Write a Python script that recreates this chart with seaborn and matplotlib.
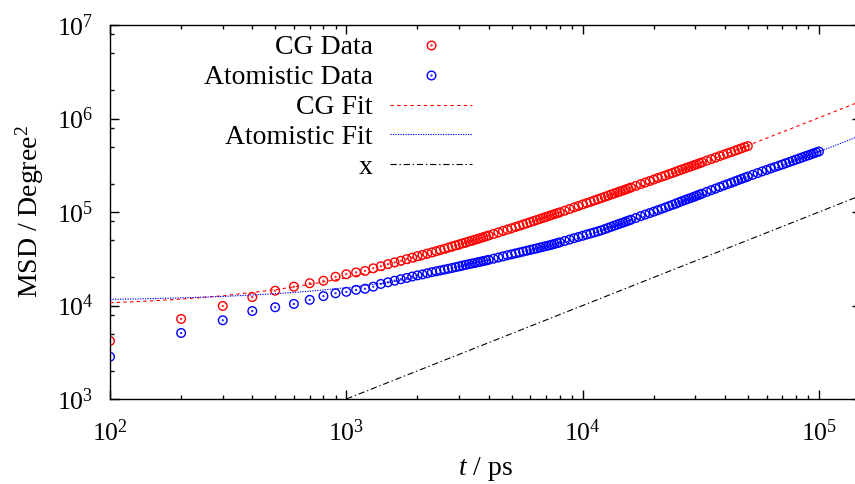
import numpy as np
import matplotlib
matplotlib.use("Agg")
import matplotlib.pyplot as plt
import seaborn as sns
from matplotlib.path import Path
from matplotlib.lines import Line2D
from matplotlib.ticker import LogLocator, LogFormatterMathtext, NullFormatter

# ---- sampling times (ps) ----
t_cg = [*range(100, 4001, 100), *range(4200, 8001, 200), *range(8400, 16001, 400),
        *range(16800, 32001, 800), *range(33500, 50001, 1500)]
t_atom = t_cg + [*range(52500, 100001, 2500)]

# ---- mean squared displacement, degree^2 ----
msd_cg = [
    4170, 7180, 9890, 12300, 14400, 15900, 17300, 18400, 20300, 21600,
    22600, 23400, 25000, 26300, 27700, 28900, 30100, 31300, 32500, 33700,
    34800, 35900, 37000, 38100, 39300, 40400, 41600, 42800, 43900, 45000,
    46100, 47200, 48400, 49400, 50500, 51600, 52700, 53800, 55000, 56100,
    58300, 60500, 62800, 64900, 67000, 69200, 71300, 73500, 75700, 77800,
    80000, 82200, 84400, 86500, 88500, 90700, 92900, 95100, 97100, 99100,
    103300, 107600, 112000, 116100, 120500, 124500, 128500, 132700, 136800, 141000,
    145200, 149300, 153800, 157800, 161800, 166000, 169800, 174200, 178200, 182400,
    190100, 198600, 206500, 214300, 222300, 230700, 238200, 246000, 254100, 261800,
    269800, 278000, 285800, 293800, 301300, 308300, 316200, 324300, 331900, 339600,
    354000, 368100, 382000, 396300, 410200, 424600, 437500, 451900, 465600, 479700,
    494300, 507000,
]
msd_atom = [
    2830, 5080, 6950, 8730, 9570, 10400, 11500, 12600, 13500, 14000,
    14700, 15100, 15900, 17000, 17700, 18400, 19100, 19700, 20400, 21000,
    21500, 22100, 22700, 23200, 23700, 24200, 24700, 25200, 25700, 26200,
    26700, 27200, 27700, 28100, 28500, 29000, 29400, 29900, 30300, 30800,
    31700, 32600, 33500, 34400, 35200, 36100, 36900, 37700, 38500, 39300,
    40100, 40800, 41700, 42400, 43200, 43900, 44700, 45600, 46500, 47300,
    49000, 50700, 52500, 54100, 55700, 57400, 58900, 60500, 62100, 63700,
    65600, 67600, 69500, 71400, 73300, 75200, 76900, 78900, 80700, 82600,
    86300, 90200, 93800, 97300, 100900, 104500, 108100, 111900, 115600, 119400,
    123000, 127100, 130900, 134600, 138400, 141900, 145600, 149600, 153100, 157000,
    164100, 171000, 177800, 184900, 191900, 198600, 205100, 212300, 219300, 225900,
    232800, 239300,
    250000, 260600, 271600, 281800, 292400, 302700, 312600, 322100, 332700, 342800,
    353200, 363900, 373300, 383700, 394500, 403600, 414000, 424600, 433600, 443600,
]

# ---- fitted curves ----
t_fit = [100, 150, 200, 300, 500, 700, 1000, 1500, 2000, 3000, 5000, 7000,
         10000, 15000, 20000, 30000, 50000, 70000, 100000, 150000]
fit_cg = [10700, 11200, 11700, 12700, 14750, 16800, 19800, 24900, 29900, 40000,
          60200, 80400, 110700, 161200, 211700, 312700, 514700, 716700, 1019700, 1524700]
fit_atom = [11630, 11850, 12060, 12490, 13350, 14210, 15500, 17650, 19800, 24100,
            32700, 41300, 54200, 75700, 97200, 140200, 226200, 312200, 441200, 656200]

# ---- reference line y = x ----
t_ref = [1000, 150000]
msd_ref = [1000, 150000]

labels = ["CG Data", "Atomistic Data", "CG Fit", "Atomistic Fit", "x"]

RED = "#ff0000"
BLUE = "#0000ff"
FS_TICK = 18.5
FS_TEXT = 20

sns.set_theme(style="ticks")
plt.rcParams.update({
    "font.family": ["Liberation Serif", "DejaVu Serif"],
    "mathtext.fontset": "custom",
    "mathtext.rm": "Liberation Serif",
    "mathtext.it": "Liberation Serif:italic",
    "mathtext.default": "regular",
    "lines.scale_dashes": False,
    "axes.linewidth": 1.0,
    "axes.edgecolor": "black",
    "text.color": "black",
    "axes.labelcolor": "black",
    "xtick.color": "black",
    "ytick.color": "black",
})

fig = plt.figure(figsize=(8.55, 4.84), dpi=100)
ax = fig.add_axes([110 / 855, 85 / 484, 750.6 / 855, 374 / 484])
ax.set_xscale("log")
ax.set_yscale("log")

# open circle with a centre dot
ring = Path.make_compound_path(Path.unit_circle(), Path.circle((0, 0), 0.09))
MS = 6.2
MEW = 1.0

sns.scatterplot(x=t_cg, y=msd_cg, ax=ax, marker=ring, s=MS ** 2, color=RED,
                facecolor="none", edgecolor=RED, linewidth=MEW, legend=False, zorder=2)
sns.scatterplot(x=t_atom, y=msd_atom, ax=ax, marker=ring, s=MS ** 2, color=BLUE,
                facecolor="none", edgecolor=BLUE, linewidth=MEW, legend=False, zorder=2)

ls_cg = (0, (2.4, 2.4))
ls_atom = (0, (0.9, 0.9))
ls_ref = (0, (4.5, 2.0, 1.0, 2.0))
sns.lineplot(x=t_fit, y=fit_cg, ax=ax, color=RED, lw=0.8, linestyle=ls_cg,
             estimator=None, zorder=3)
sns.lineplot(x=t_fit, y=fit_atom, ax=ax, color=BLUE, lw=0.8, linestyle=ls_atom,
             estimator=None, zorder=3)
sns.lineplot(x=t_ref, y=msd_ref, ax=ax, color="black", lw=0.8, linestyle=ls_ref,
             estimator=None, zorder=3)

ax.set_xlim(100, 1.5e5)
ax.set_ylim(1e3, 1e7)

ax.xaxis.set_major_locator(LogLocator(base=10, numticks=12))
ax.xaxis.set_minor_locator(LogLocator(base=10, subs=np.arange(2, 10), numticks=30))
ax.yaxis.set_major_locator(LogLocator(base=10, numticks=12))
ax.yaxis.set_minor_locator(LogLocator(base=10, subs=[2, 5, 8], numticks=30))
ax.xaxis.set_major_formatter(LogFormatterMathtext())
ax.yaxis.set_major_formatter(LogFormatterMathtext())
ax.xaxis.set_minor_formatter(NullFormatter())
ax.yaxis.set_minor_formatter(NullFormatter())

ax.tick_params(which="both", direction="in", top=True, right=True, width=1.0,
               labelsize=FS_TICK)
ax.tick_params(which="major", length=6.5)
ax.tick_params(which="minor", length=3.2)
ax.tick_params(axis="x", which="major", pad=15)
ax.tick_params(axis="y", which="major", pad=12)

ax.set_xlabel(r"$\mathit{t}$ / ps", fontsize=FS_TEXT, labelpad=6)
ax.set_ylabel("MSD / Degree$^2$", fontsize=FS_TEXT, labelpad=8)

handles = [
    Line2D([], [], ls="none", marker=ring, ms=MS, mfc="none", mec=RED, mew=MEW),
    Line2D([], [], ls="none", marker=ring, ms=MS, mfc="none", mec=BLUE, mew=MEW),
    Line2D([], [], color=RED, lw=0.8, linestyle=ls_cg),
    Line2D([], [], color=BLUE, lw=0.8, linestyle=ls_atom),
    Line2D([], [], color="black", lw=0.8, linestyle=ls_ref),
]
ax.legend(handles, labels, loc="upper right",
          bbox_to_anchor=(472 / 855, (484 - 35) / 484), bbox_transform=fig.transFigure,
          frameon=False, markerfirst=False, fontsize=FS_TEXT, handlelength=2.95,
          handletextpad=0.62, labelspacing=0.16, borderpad=0, borderaxespad=0)

fig.savefig("out.png", dpi=100)
